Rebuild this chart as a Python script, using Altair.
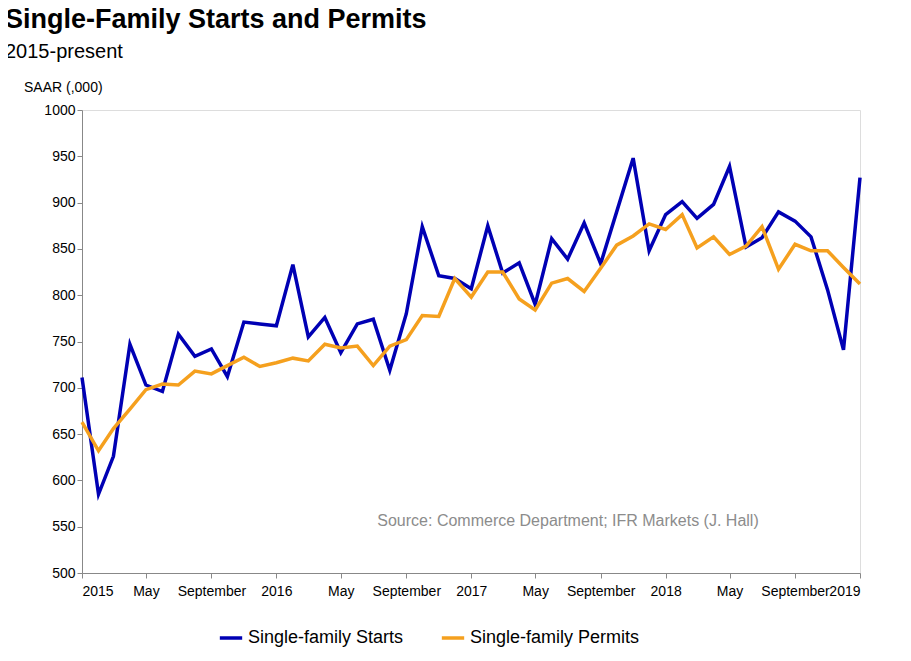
import altair as alt
import pandas as pd

months = pd.date_range("2015-01-01", "2019-01-01", freq="MS").strftime("%Y-%m-%d").tolist()

starts = [711, 585, 626, 747, 703, 696, 758, 734, 742, 712, 771, 769,
          767, 833, 755, 776, 738, 769, 774, 719, 780, 874, 821, 818,
          807, 875, 824, 835, 790, 861, 839, 878, 834, 890, 948, 848,
          887, 901, 883, 898, 939, 852, 862, 890, 880, 863, 806, 741,
          927]
permits = [663, 632, 656, 677, 698, 704, 703, 718, 715, 724, 733, 723,
           727, 732, 729, 747, 743, 745, 724, 745, 752, 778, 777, 818,
           798, 825, 825, 796, 784, 813, 818, 804, 829, 854, 864, 877,
           871, 887, 851, 863, 844, 853, 874, 828, 855, 848, 848, 830,
           812]

series = ["Single-family Starts", "Single-family Permits"]
tick_dates = months[::4]

df = pd.concat([
    pd.DataFrame({"date": months, "value": starts, "series": series[0]}),
    pd.DataFrame({"date": months, "value": permits, "series": series[1]}),
])

FONT = "Liberation Sans"

lines = alt.Chart(df).mark_line(strokeWidth=3.5).encode(
    x=alt.X("date:T", title=None,
            scale=alt.Scale(type="utc", domain=["2015-01-01", "2019-01-01"]),
            axis=alt.Axis(values=[pd.Timestamp(d).value // 10**6 for d in tick_dates],
                          format="%b-%y", formatType="utc", labelFontSize=14,
                          labelColor="black", domainColor="#888", tickColor="#888",
                          labelPadding=6, grid=False, tickSize=5, labelOverlap=False)),
    y=alt.Y("value:Q", title=None,
            scale=alt.Scale(domain=[500, 1000], nice=False, zero=False),
            axis=alt.Axis(values=list(range(500, 1001, 50)), format="d", labelFontSize=14,
                          labelColor="black", domainColor="#888", tickColor="#888",
                          grid=False, tickSize=5)),
    color=alt.Color("series:N", sort=series,
                    scale=alt.Scale(domain=series, range=["#0000b4", "#f5a01e"]),
                    legend=alt.Legend(title=None, orient="none", direction="horizontal",
                                      legendX=136, legendY=515, symbolType="stroke",
                                      symbolStrokeWidth=3.5, symbolSize=500,
                                      labelFontSize=18, labelColor="black",
                                      labelLimit=0, columnPadding=30)),
)

note = alt.Chart(pd.DataFrame({"t": ["Source: Commerce Department; IFR Markets (J. Hall)"]})).mark_text(
    fontSize=16, color="#8c8c8c", align="center", font=FONT
).encode(x=alt.value(486), y=alt.value(411), text="t:N")

unit = alt.Chart(pd.DataFrame({"t": ["SAAR (,000)"]})).mark_text(
    fontSize=14, color="black", align="left", font=FONT
).encode(x=alt.value(-58), y=alt.value(-22), text="t:N")

title = alt.Chart(pd.DataFrame({"t": ["Single-Family Starts and Permits"]})).mark_text(
    fontSize=27, fontWeight="bold", color="black", align="left", baseline="top", font=FONT
).encode(x=alt.value(-77), y=alt.value(-103), text="t:N")

subtitle = alt.Chart(pd.DataFrame({"t": ["2015-present"]})).mark_text(
    fontSize=20, color="black", align="left", baseline="top", font=FONT
).encode(x=alt.value(-77), y=alt.value(-68), text="t:N")

chart = alt.layer(lines, note, unit, title, subtitle).properties(
    width=778, height=463,
    padding={"left": 74, "top": 102, "right": 40, "bottom": 80},
    autosize=alt.AutoSizeParams(type="none"),
).configure_view(strokeWidth=0).configure(font=FONT)

chart.save("out.html", embed_options={"renderer": "svg", "actions": False})
